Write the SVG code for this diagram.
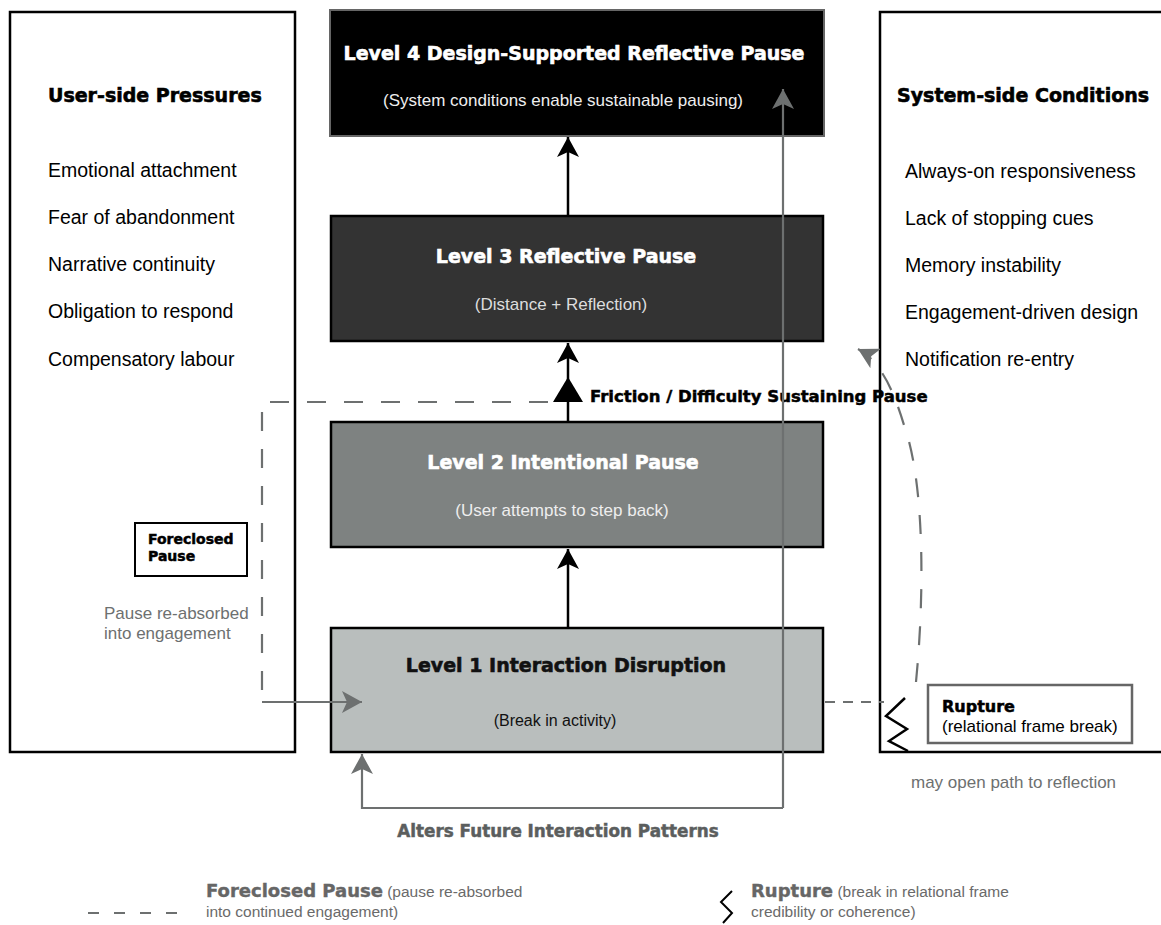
<svg xmlns="http://www.w3.org/2000/svg" width="1161" height="925" viewBox="0 0 1161 925">
<defs>
<marker id="ab" viewBox="0 0 20 22" refX="20" refY="11" markerWidth="20" markerHeight="22" markerUnits="userSpaceOnUse" orient="auto"><path d="M0,0 L20,11 L0,22 L5,11 Z" fill="#000"/></marker>
<marker id="ag" viewBox="0 0 20 22" refX="20" refY="11" markerWidth="20" markerHeight="22" markerUnits="userSpaceOnUse" orient="auto"><path d="M0,0 L20,11 L0,22 L5,11 Z" fill="#6d7070"/></marker>
<style>
.side{fill:#fff;stroke:#000;stroke-width:2.5}
.hd{font-family:"DejaVu Sans",sans-serif;font-weight:bold;font-size:19px;fill:#000;stroke:#000;stroke-width:0.6}
.li{font-family:"Liberation Sans",Arial,sans-serif;font-size:19.5px;fill:#000}
.tt{font-family:"DejaVu Sans",sans-serif;font-weight:bold;font-size:19px;text-anchor:middle;stroke-width:0.6}
.st{font-family:"Liberation Sans",Arial,sans-serif;font-size:17px;text-anchor:middle}
.bx{stroke:#000;stroke-width:2.5}
.g{font-family:"Liberation Sans",Arial,sans-serif;font-size:17px;fill:#6d7070}
.gb{font-family:"DejaVu Sans",sans-serif;font-weight:bold;fill:#5b5e5e;stroke:#5b5e5e;stroke-width:0.5}
.kb{font-family:"DejaVu Sans",sans-serif;font-weight:bold;fill:#000;stroke:#000;stroke-width:0.5}
.blk{fill:none;stroke:#000;stroke-width:2.5}
.gl{fill:none;stroke:#6d7070;stroke-width:2.2}
.gd{fill:none;stroke:#6d7070;stroke-width:2.2;stroke-dasharray:19 18}
.lg{font-family:"Liberation Sans",Arial,sans-serif;font-size:15.5px;fill:#6a6a6a}
.lb{font-family:"DejaVu Sans",sans-serif;font-weight:bold;font-size:18px;fill:#666;stroke:#666;stroke-width:0.4}
</style>
</defs>

<g id="user-side">
<rect class="side" x="10" y="12" width="285" height="740"/>
<text class="hd" x="48" y="102">User-side Pressures</text>
<text class="li" x="48" y="177">Emotional attachment</text>
<text class="li" x="48" y="224">Fear of abandonment</text>
<text class="li" x="48" y="271">Narrative continuity</text>
<text class="li" x="48" y="318">Obligation to respond</text>
<text class="li" x="48" y="366">Compensatory labour</text>
</g>

<g id="system-side">
<rect class="side" x="880" y="12" width="300" height="740"/>
<text class="hd" x="897" y="102">System-side Conditions</text>
<text class="li" x="905" y="178">Always-on responsiveness</text>
<text class="li" x="905" y="225">Lack of stopping cues</text>
<text class="li" x="905" y="272">Memory instability</text>
<text class="li" x="905" y="319">Engagement-driven design</text>
<text class="li" x="905" y="366">Notification re-entry</text>
</g>

<g id="level4">
<rect x="330" y="10" width="494" height="126" fill="#000" stroke="#666" stroke-width="2"/>
<text class="tt" x="574" y="60" fill="#fff" stroke="#fff">Level 4 Design-Supported Reflective Pause</text>
<text class="st" x="563" y="106" fill="#eee">(System conditions enable sustainable pausing)</text>
</g>

<g id="level3">
<rect class="bx" x="331" y="216" width="492" height="125" fill="#333"/>
<text class="tt" x="566" y="263" fill="#fff" stroke="#fff">Level 3 Reflective Pause</text>
<text class="st" x="561" y="310" fill="#ddd">(Distance + Reflection)</text>
</g>

<g id="level2">
<rect class="bx" x="331" y="422" width="492" height="125" fill="#7e8281"/>
<text class="tt" x="563" y="469" fill="#fff" stroke="#fff">Level 2 Intentional Pause</text>
<text class="st" x="562" y="516" fill="#eee">(User attempts to step back)</text>
</g>

<g id="level1">
<rect class="bx" x="331" y="628" width="492" height="124" fill="#b9bebd"/>
<text class="tt" x="566" y="672" fill="#111" stroke="#111">Level 1 Interaction Disruption</text>
<text class="st" x="555" y="726" fill="#111" style="font-size:16px">(Break in activity)</text>
</g>

<g id="foreclosed">
<rect x="135" y="523" width="112" height="53" fill="#fff" stroke="#000" stroke-width="2"/>
<text class="kb" x="148" y="544" font-size="14">Foreclosed</text>
<text class="kb" x="148" y="561" font-size="14">Pause</text>
<text class="g" x="104" y="619">Pause re-absorbed</text>
<text class="g" x="104" y="639">into engagement</text>
</g>

<g id="rupture">
<rect x="928" y="685" width="204" height="58" fill="#fff" stroke="#666" stroke-width="2.5"/>
<text class="kb" x="942" y="712" font-size="16">Rupture</text>
<text class="li" x="942" y="732" style="font-size:17px">(relational frame break)</text>
<text class="g" x="911" y="788">may open path to reflection</text>
</g>

<g id="labels">
<text class="kb" x="590" y="402" font-size="16.5">Friction / Difficulty Sustaining Pause</text>
<text class="gb" x="558" y="837" font-size="16.8" text-anchor="middle">Alters Future Interaction Patterns</text>
</g>

<g id="connectors">
<path class="blk" d="M568 628 V549" marker-end="url(#ab)"/>
<path class="blk" d="M568 422 V343" marker-end="url(#ab)"/>
<path class="blk" d="M568 216 V137" marker-end="url(#ab)"/>
<polygon points="568,377 553,402 583,402" fill="#000"/>
<path class="gd" d="M548 402 H262 V702"/>
<path class="gl" d="M262 702 H362" marker-end="url(#ag)"/>
<path class="gl" d="M783 808 V89" marker-end="url(#ag)"/>
<path class="gl" d="M783 808 H362 V754" marker-end="url(#ag)"/>
<path fill="none" stroke="#6d7070" stroke-width="2.2" stroke-dasharray="10 8" d="M825 702 H884"/>
<path class="gd" d="M916 682 C925 590 924 480 904 425 C895 395 882 362 858 349" marker-end="url(#ag)"/>
<path class="blk" d="M905 698 L886 716 L907 729 L889 741 L908 751"/>
</g>

<g id="legend">
<path fill="none" stroke="#6d7070" stroke-width="2.2" stroke-dasharray="11 15" d="M88 913 H182"/>
<text class="lg" x="206" y="897"><tspan class="lb">Foreclosed Pause</tspan> (pause re-absorbed</text>
<text class="lg" x="206" y="917">into continued engagement)</text>
<path fill="none" stroke="#000" stroke-width="2" d="M732 891 L721 902 L732 913 L723 923"/>
<text class="lg" x="751" y="897"><tspan class="lb">Rupture</tspan> (break in relational frame</text>
<text class="lg" x="751" y="917">credibility or coherence)</text>
</g>
</svg>
